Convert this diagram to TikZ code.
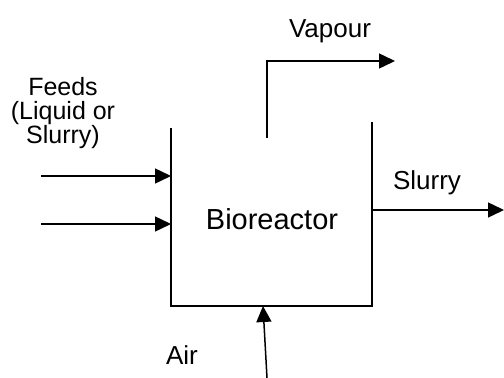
\documentclass[tikz,border=0pt]{standalone}
\usepackage{fontspec}
\setmainfont{Liberation Sans}
\usetikzlibrary{arrows.meta}
\tikzset{
  flow/.style={-{Triangle[length=16pt,width=15pt]}, line width=1.5pt},
  wall/.style={line width=1.8pt},
  lbl/.style={font=\fontsize{26}{24}\selectfont, inner sep=0pt}
}
\begin{document}
\begin{tikzpicture}[x=1pt, y=-1pt]
        \useasboundingbox (0,0) rectangle (504,378);
        % Nodes
        \coordinate (TL) at (171,128);
        \coordinate (BL) at (171,306);
        \coordinate (BR) at (372,306);
        \coordinate (TR) at (372,122);
        \coordinate (ventIn) at (267,138);
        \coordinate (ventBend) at (267,61);
        \coordinate (ventOut) at (395,61);
        \coordinate (feedA) at (41,176);
        \coordinate (feedAin) at (171,176);
        \coordinate (feedB) at (41,224);
        \coordinate (feedBin) at (171,224);
        \coordinate (slurryOut) at (372,210);
        \coordinate (slurryEnd) at (504,210);
        \coordinate (airSrc) at (267,378);
        \coordinate (airIn) at (263,306);
        \node[lbl, anchor=base] (vapour) at (330,37) {Vapour};
        \node[lbl, align=center, font=\fontsize{25}{24}\selectfont] (feeds) at (63,113) {Feeds\\(Liquid or\\Slurry)};
        \node[lbl, anchor=base, font=\fontsize{29}{30}\selectfont] (bio) at (272,229) {Bioreactor};
        \node[lbl, anchor=base] (slurry) at (427,189) {Slurry};
        \node[lbl, anchor=base] (air) at (182,364) {Air};

        % Edges
        \draw[wall] (TL) -- (BL) -- (BR) -- (TR);
        \draw[flow] (ventIn) -- (ventBend) -- (ventOut);
        \draw[flow] (feedA) -- (feedAin);
        \draw[flow] (feedB) -- (feedBin);
        \draw[flow] (slurryOut) -- (slurryEnd);
        \draw[flow] (airSrc) -- (airIn);
    \end{tikzpicture}
\end{document}
